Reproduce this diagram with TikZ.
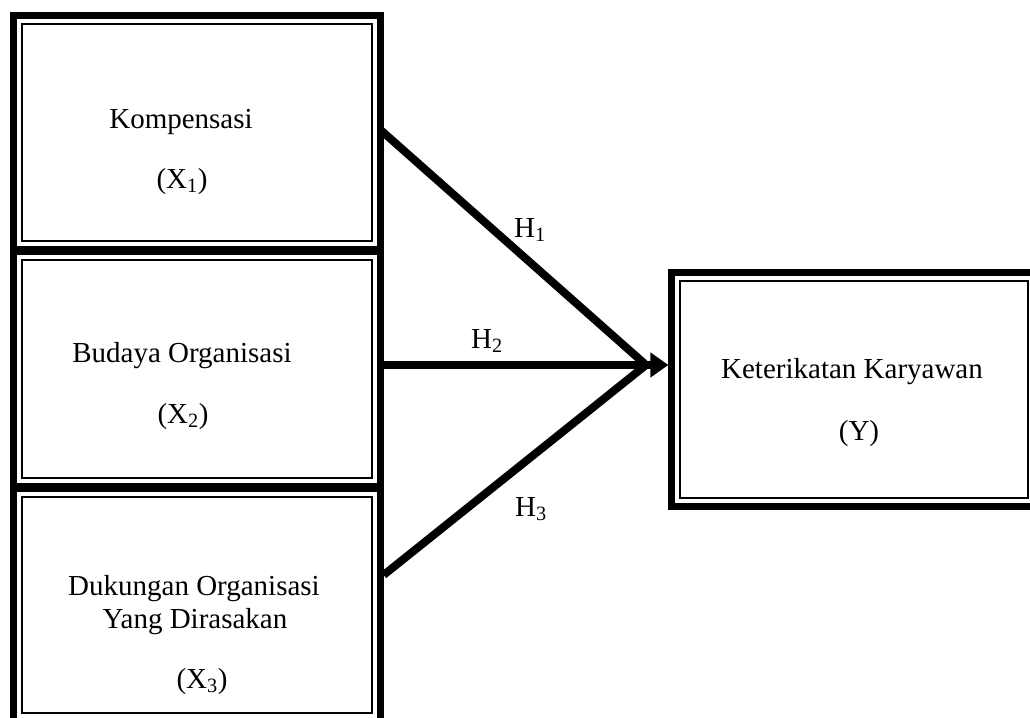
\documentclass[tikz,border=0pt]{standalone}
\usepackage{fontspec}
\setmainfont{Liberation Serif}
\usepackage{tikz}
\usetikzlibrary{arrows.meta,calc}
\tikzset{
  kotak/.style={rectangle, draw=black, line width=1.2pt, fill=white,
    inner sep=0pt},
  bingkai/.style={draw=black, line width=7pt},
  teks/.style={anchor=base, inner sep=0pt, font=\fontsize{29}{34}\selectfont},
  garis/.style={-, line width=8pt, black},
  panah/.style={-{Triangle[length=18pt, width=24pt]}, line width=8pt, black},
}

\begin{document}
\begin{tikzpicture}[x=1pt, y=-1pt]
    \path[use as bounding box, clip] (0,0) rectangle (1030,717);
    \node[kotak, minimum width=350pt, minimum height=217pt] (b1) at (197,132.5) {};
    \node[kotak, minimum width=350pt, minimum height=218pt] (b2) at (197,369) {};
    \node[kotak, minimum width=350pt, minimum height=216pt] (b3) at (197,605) {};
    \node[kotak, minimum width=348pt, minimum height=217pt] (y) at (854,389.5) {};
    \draw[bingkai] ([shift={(-8pt,8pt)}]b1.north west) rectangle ([shift={(8pt,-8pt)}]b1.south east);
    \draw[bingkai] ([shift={(-8pt,8pt)}]b2.north west) rectangle ([shift={(8pt,-8pt)}]b2.south east);
    \draw[bingkai] ([shift={(-8pt,8pt)}]b3.north west) rectangle ([shift={(8pt,-8pt)}]b3.south east);
    \draw[bingkai] ([shift={(-8pt,8pt)}]y.north west) rectangle ([shift={(8pt,-8pt)}]y.south east);
    \node[teks] (komp) at (181,128) {Kompensasi};
    \node[teks] (x1) at (182,188) {(X\textsubscript{1})};
    \node[teks] (bud) at (182,362) {Budaya Organisasi};
    \node[teks] (x2) at (183,423) {(X\textsubscript{2})};
    \node[teks] (duk) at (194,595) {Dukungan Organisasi};
    \node[teks] (yang) at (195,628) {Yang Dirasakan};
    \node[teks] (x3) at (202,688) {(X\textsubscript{3})};
    \node[teks] (ket) at (852,378) {Keterikatan Karyawan};
    \node[teks] (yy) at (859,440) {(Y)};
    \coordinate (temu) at (646,365);
    \draw[garis] ([shift={(8pt,2.5pt)}]b1.east) -- (temu);
    \draw[garis] ([shift={(11pt,30pt)}]b3.east) -- (temu);
    \draw[panah] ([shift={(8pt,4pt)}]b2.east) -- ([shift={(-11pt,0pt)}]y.west |- temu);
    \node[teks] (h1) at (530,237) {H\textsubscript{1}};
    \node[teks] (h2) at (487,348) {H\textsubscript{2}};
    \node[teks] (h3) at (531,516) {H\textsubscript{3}};
\end{tikzpicture}
\end{document}
